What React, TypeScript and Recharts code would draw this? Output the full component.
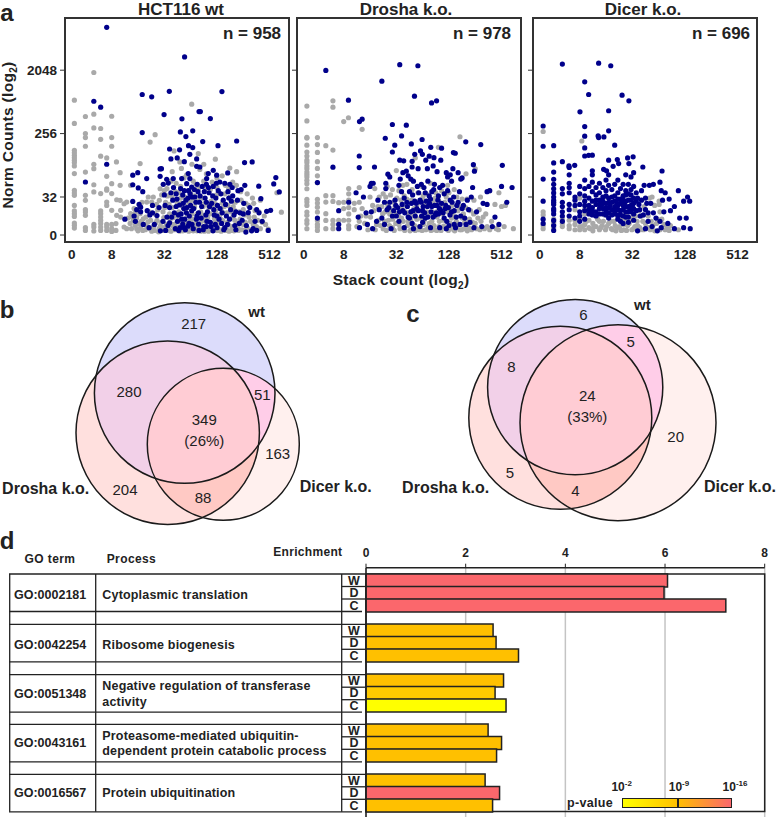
import React from 'react';
import {
  Bar, BarChart, CartesianGrid, Cell, ReferenceArea, Scatter, ScatterChart, XAxis, YAxis,
} from 'recharts';

type Pt = [number, number];

// all scatter values are [log2 stack count, log2 norm counts]
const wtGrey: Pt[] = [
  [1.58,9.58],[1.58,8.48],[1.58,7.21],[1.58,7.09],[1.58,6.97],[1.58,6.86],[1.58,6.74],[1.58,6.63],[1.58,6.47],[1.58,6.11],[1.58,5.32],[1.58,5.19],[1.58,5.08],[1.58,4.6],[1.58,4.34],[1.58,4.21],[1.58,4.08],[1.58,3.77],[1.58,3.66],[1.58,3.53],
  [2,8.81],[2,8],[2,7.81],[2,7.4],[2,6.18],[2,5.08],[2,4.84],[2,4.4],[2,4.29],[2,4.13],[2,3.55],[2,3.42],
  [2.32,10.89],[2.32,8.92],[2.32,8.27],[2.32,6.55],[2.32,6.34],[2.32,5.58],[2.32,5.24],[2.32,3.7],[2.32,3.58],[2.32,3.39],
  [2.58,8.24],[2.58,7.73],[2.58,6.93],[2.58,5.16],[2.58,4.34],[2.58,4.21],[2.58,4.05],[2.58,3.89],[2.58,3.74],[2.58,3.58],[2.58,3.42],
  [2.81,6.85],[2.81,5.98],[2.81,5.39],[2.81,5.32],[2.81,4.76],[2.81,4.6],[2.81,3.7],[2.81,3.58],[2.81,3.42],
  [3,8.82],[3,7.81],[3,7.4],[3,5.63],[3,5.16],[3,4.37],[3,3.7],[3,3.5],[3,3.37],
  [3.18,6.66],[3.32,6.15],[3.32,5.55],[3.19,4.87],[3.32,4.84],[3.19,4.13],[3.16,3.74],[3.16,3.42],[3.34,4.37],[3.34,4.05],[3.47,4.68],[3.47,3.58],[3.57,3.5],[3.57,4.76],[3.72,5.55],[3.72,4.21],[3.82,3.89],[3.89,3.66],[3.95,3.5],[4.08,6.58],[4.65,7.95],[4.46,7.6],[4.08,4.21],[4.2,3.97],[4.33,4.76],[4.39,5],[4.58,5],[4.52,4.76],[4.71,4.65],[4.81,4.84],[4.84,5.39],[6.04,9.39],[5.37,7.18],[5.59,6.66],[6.94,6.79],[7.49,6.37],[6.29,7.05],
  [3.7,3.75],[3.78,4.05],[3.85,4.45],[3.95,4.02],[4.02,3.75],[4.1,3.55],[4.18,3.42],[4.25,3.7],[4.3,4.05],[4.38,3.82],[4.45,3.5],[4.52,3.38],[4.6,3.62],[4.65,4.2],[4.72,3.9],[4.8,3.5],[4.88,3.8],[4.95,4.3],[5.0,3.55],[5.05,4.75],[5.12,5.05],[5.18,3.42],[5.22,3.95],[5.3,4.5],[5.35,3.6],[5.42,5.25],[5.48,4.1],[5.52,3.45],[5.6,3.8],[5.65,4.7],[5.7,3.4],[5.75,5.9],[5.8,4.4],[5.86,3.65],[5.92,5.3],[5.98,3.9],[6.02,3.42],[6.08,4.85],[6.15,3.7],[6.2,5.6],[6.25,4.2],[6.3,3.45],[6.35,5.0],[6.42,3.85],[6.48,4.55],[6.52,3.38],[6.58,5.4],[6.65,4.0],[6.72,3.55],[6.78,4.8],[6.82,5.7],[6.9,3.7],[6.95,4.35],[7.02,3.42],[7.08,5.2],[7.14,3.95],[7.2,4.7],[7.25,3.5],[7.32,5.55],[7.38,4.25],[7.44,3.68],[7.5,5.0],[7.55,3.42],[7.62,4.55],[7.68,3.9],[7.74,5.55],[7.8,3.55],[7.85,4.3],[7.92,4.85],[8,3.7],[8.05,4.15],[8.12,3.48],[8.2,4.6],[8.28,3.85],[8.35,4.95],[8.42,4.05],[8.5,3.6],[8.6,4.3],[8.72,3.8],[8.95,3.48],[9.28,5.2],[9.45,4.28],
  [5.2,4.2],[5.4,3.7],[5.55,4.3],[5.72,3.95],[5.9,4.6],[6.05,4.2],[6.2,3.75],[6.38,4.3],[6.55,3.95],[6.7,4.5],[6.9,4.0],[7.05,3.75],[7.2,4.3],[7.35,3.5],[7.6,4.05],[4.9,5.1],[5.1,5.4],[5.45,5.65],[5.85,6.05],[6.1,5.75],[6.35,6.3],[6.6,6.1],[7.0,5.9],[7.2,6.0],[7.6,5.7],[8.15,5.15],[8.65,4.85],
  [3.62,4.0],[3.75,3.5],[3.9,4.25],[4.0,3.4],[4.12,3.85],[4.15,4.75],[4.28,3.45],[4.35,3.6],[4.42,4.3],[4.48,3.9],[4.55,3.55],[4.62,3.42],[4.68,3.78],[4.75,4.4],[4.78,3.35],[4.85,3.62],[4.92,3.42],[4.98,4.02],[5.02,4.5],[5.08,3.7],[5.15,3.5],[5.18,4.65],[5.25,3.38],[5.28,3.72],[5.33,4.02],[5.38,3.45],[5.44,4.85],[5.47,3.58],[5.53,3.9],[5.58,3.38],[5.62,4.95],[5.67,3.55],[5.72,4.5],[5.76,3.42],[5.82,3.75],[5.88,4.15],[5.93,3.38],[5.97,4.75],[6.0,3.6],[6.06,3.95],[6.1,3.4],[6.15,4.55],[6.18,3.55],[6.24,3.4],[6.28,4.8],[6.33,3.65],[6.38,3.38],[6.44,4.15],[6.47,3.55],[6.53,4.7],[6.57,3.42],[6.6,3.8],[6.68,3.38],[6.74,4.2],[6.78,3.6],[6.85,4.55],[6.88,3.42],[6.94,3.85],[6.98,5.1],[7.05,3.5],[7.1,4.15],[7.16,3.38],[7.22,3.9],[7.28,4.55],[7.33,3.42],[7.4,3.8],[7.46,3.38],[7.52,4.3],[7.58,3.6],[7.65,3.4],[7.7,4.75],[7.75,3.75],[7.82,3.42],[7.88,3.95],[7.95,3.45],[8.0,4.4],[8.08,3.8],[8.15,3.55],[8.22,4.05],[8.3,3.45],[8.38,3.7],[8.45,4.35],[8.55,3.9],[8.65,3.5],[8.8,4.1],[8.85,3.7],
  [5.25,5.75],[5.55,5.2],[5.62,5.5],[6.0,5.2],[6.3,5.4],[6.5,5.75],[6.75,5.35],[7.0,5.45],[7.3,5.15],[7.45,5.4],[7.9,5.25],[5.3,6.2],[5.65,6.35],[6.5,6.55],[6.05,6.55],[7.75,6.2],[5.0,5.3],[5.3,5.0],[5.5,4.7],[5.78,5.0],[6.15,5.05],[6.45,4.95],[6.65,4.65],[6.92,4.7],[7.15,4.45],[7.42,4.6],[7.68,4.35],[8.1,4.7],[8.4,4.7],
];
const wtBlue: Pt[] = [
  [2.81,13.03],[5.77,11.63],[2.32,9.53],[2.58,9.25],[4.16,9.85],[4.52,9.74],[5.19,10],[7.19,9.99],[4.99,8.9],[6.32,9.04],[6.37,9.04],[5.67,8.7],[6.75,8.71],[4.16,8.05],[6.08,8.13],[5.61,8.08],[5.82,7.86],[6.46,7.62],[7.75,7.65],[7.04,7.43],[5.92,7.43],[6.08,7.34],[5.2,7.27],[5.58,7.23],[2.81,6.55],[5.97,7.02],[5.25,6.8],[5.49,6.85],[5.76,6.67],[8.05,6.63],[8.34,6.66],[6.23,6.8],[6.23,6.45],[6.35,6.42],[4.84,6.33],[2,5.71],
  [3.8,6.03],[3.99,6.15],[4.33,5.87],[3.8,5.58],[4.01,5.43],[4.18,5.25],[3.8,4.79],[4.04,4.65],[4.84,5.98],[4.89,6.34],[4.96,5.6],[5.09,5.84],[5.15,5.66],[5.34,5.87],[5.66,5.87],[5.91,6.11],[5.97,5.87],[5.85,5.63],[6.04,5.47],[6.61,5.87],[6.86,6.26],[6.67,6.11],[6.99,6.03],[7.41,6.14],[7.11,5.71],[7.49,5.6],[8.06,5.55],[8.59,5.51],[9.16,5.62],[9.24,5.92],[9.37,5.24],[8.67,4.92],[8.89,4.32],[9.04,4.37],[8.51,4.4],[8.19,4.26],[8.72,3.85],[8.38,3.5],[8.51,3.42],[8.1,3.34],[8.95,3.42],
  [3.5,3.95],[3.85,4.1],[3.9,3.85],[3.95,4.4],[4.1,4.3],[4.2,3.7],[4.35,4.35],[4.42,3.55],[4.55,4.25],[4.72,4.12],[4.85,3.4],[4.95,3.85],[5.05,3.42],[5.1,4.05],[5.2,4.5],[5.25,5.2],[5.32,4.85],[5.38,4.25],[5.45,5.15],[5.5,3.85],[5.58,4.62],[5.6,3.55],[5.64,4.2],[5.7,5.1],[5.74,4.45],[5.78,3.95],[5.82,4.85],[5.86,4.5],[5.92,5.3],[5.95,4.1],[6,4.6],[6.05,3.7],[6.12,4.45],[6.16,5.0],[6.22,3.95],[6.28,5.25],[6.34,4.75],[6.4,4.0],[6.44,5.5],[6.5,3.6],[6.55,4.95],[6.6,5.6],[6.64,4.3],[6.7,5.2],[6.75,3.8],[6.8,4.7],[6.86,5.5],[6.9,4.15],[6.96,4.95],[7.0,3.55],[7.05,5.3],[7.12,4.45],[7.18,3.75],[7.24,4.85],[7.3,5.65],[7.36,4.1],[7.42,5.25],[7.48,3.95],[7.55,4.8],[7.6,5.05],[7.68,3.65],[7.72,4.3],[7.8,5.3],[7.88,4.25],[7.96,3.9],[8.02,4.7],[5.55,3.42],[5.75,3.55],[6.32,3.42],[6.6,3.6],[7.0,4.1],[6.3,4.25],[6.05,5.0],[5.45,4.55],[5.7,3.72],[7.3,3.55],[6.85,3.4],[4.1,4.52],[4.45,4.15],[5.2,3.78],[6.25,5.6],[6.6,4.75],[5.9,3.62],
  [4.55,4.6],[4.62,3.7],[4.8,4.5],[5.0,5.1],[5.03,4.6],[5.14,3.65],[5.28,4.05],[5.35,5.45],[5.42,3.5],[5.48,4.9],[5.54,4.15],[5.62,5.4],[5.66,3.95],[5.72,4.7],[5.76,5.3],[5.8,3.45],[5.84,4.25],[5.9,4.95],[5.94,3.75],[5.98,5.15],[6.04,4.35],[6.1,3.5],[6.14,5.35],[6.2,4.75],[6.24,4.1],[6.3,3.72],[6.36,5.05],[6.42,4.55],[6.48,3.45],[6.52,5.25],[6.58,4.15],[6.62,3.85],[6.68,5.45],[6.72,4.55],[6.78,3.6],[6.84,5.05],[6.88,4.4],[6.94,3.7],[6.98,5.65],[7.02,4.6],[7.08,3.95],[7.15,5.15],[7.2,4.25],[7.26,3.45],[7.33,4.65],[7.4,3.7],[7.45,4.95],[7.52,4.4],[7.58,5.45],[7.65,4.15],[7.72,3.45],[7.78,4.85],[7.85,3.75],[7.92,5.35],[8.0,4.2],[8.12,3.65],[8.25,4.5],[8.32,3.4],[8.45,3.85],[8.6,4.25],
];

const droshaGrey: Pt[] = [
  [1.6,9.3],[1.6,8.6],[1.6,7.82],[1.6,7.79],[1.6,7.45],[1.6,7.13],[1.6,6.94],[1.6,6.74],[1.6,6.63],[1.6,6.47],[1.6,6.34],[1.6,6.18],[1.6,6.07],[1.6,5.95],[1.6,5.79],[1.6,5.63],[1.6,5.39],[1.6,4.89],[1.6,4.76],[1.6,4.6],[1.6,4.29],[1.6,4.13],[1.6,3.89],[1.6,3.74],[1.6,3.5],
  [2,7.81],[2,7.48],[2,7.11],[2,6.67],[2,6.35],[2,6],[2,5.68],[2,4.89],[2,4.71],[2,4.52],[2,4.29],[2,3.89],[2,3.7],[2,3.58],[2,3.42],
  [2.32,7.43],[2.32,5.06],[2.32,4.76],[2.32,4.21],[2.32,3.89],[2.32,3.5],
  [2.59,9.55],[2.59,9.25],[2.59,7.22],[2.59,5.06],[2.59,4.79],[2.59,3.89],[2.59,3.7],[2.59,3.5],
  [2.81,4.73],[2.81,3.9],[3,8.57],[3.18,8.75],[3.7,8.2],[3.19,5.4],[3.19,5.15],[3.19,4.85],[3,4.75],[3,4.45],[3,3.9],[3.19,4.5],[3.19,4.2],[3.19,3.9],[3.19,3.65],[3.19,3.5],[3.4,4.7],[3.4,4.4],[3.59,5.45],[3.59,4.75],[3.59,3.85],[3.7,4.45],[3.85,4.1],[4,5.0],[4.1,4.6],[4.18,5.4],[4.25,3.7],[4.35,5.0],[4.45,4.55],[4.5,3.5],[4.58,4.3],[4.65,5.5],[4.7,3.9],[4.78,5.1],[4.85,3.55],[4.9,4.75],[5.0,6.25],[5.0,4.2],[5.1,5.3],[5.1,3.7],[5.18,4.85],[5.25,3.5],[5.3,5.05],[5.35,4.3],[5.4,5.6],[5.45,3.85],[5.5,4.7],[5.55,3.45],[5.6,5.35],[5.65,4.1],[5.7,3.65],[5.72,6.85],[5.78,4.6],[5.82,5.2],[5.86,3.45],[5.92,4.0],[5.98,5.5],[6.03,3.7],[6.08,4.6],[6.14,5.15],[6.2,3.5],[6.25,4.2],[6.3,5.65],[6.35,3.85],[6.4,4.75],[6.46,3.45],[6.5,5.2],[6.55,4.05],[6.6,7.35],[6.62,3.6],[6.68,4.55],[6.72,5.3],[6.78,3.9],[6.84,4.75],[6.9,3.5],[6.95,4.3],[7.0,5.2],[7.05,3.75],[7.12,4.6],[7.18,3.45],[7.25,4.05],[7.3,5.0],[7.35,3.7],[7.4,4.55],[7.42,7.85],[7.48,3.45],[7.55,4.2],[7.6,3.8],[7.65,6.1],[7.68,4.9],[7.75,3.55],[7.82,4.35],[7.9,3.8],[7.95,4.85],[8,6.33],[8.05,3.5],[8.15,4.4],[8.22,3.85],[8.35,3.5],[8.4,4.2],[8.55,5.3],[8.62,3.85],[8.75,4.65],[8.88,3.45],[9.0,4.55],[9.1,3.6],[9.45,3.5],
  [4.3,4.55],[4.6,3.85],[4.95,4.55],[5.2,4.0],[5.4,4.9],[5.7,4.3],[6.0,4.9],[6.25,3.75],[6.6,4.85],[6.9,5.0],[7.1,4.0],[7.3,3.55],[7.5,4.9],[4.75,4.2],[5.55,3.9],[6.05,4.25],
  [3.5,3.6],[3.65,4.1],[3.8,3.75],[3.92,3.45],[4.02,4.05],[4.15,4.35],[4.2,3.45],[4.32,3.9],[4.4,3.65],[4.48,4.2],[4.55,3.85],[4.62,3.42],[4.68,4.6],[4.74,3.65],[4.8,4.35],[4.86,3.95],[4.92,3.42],[4.98,3.75],[5.02,4.95],[5.08,4.1],[5.14,3.5],[5.2,4.45],[5.26,3.85],[5.32,3.42],[5.38,4.6],[5.42,3.65],[5.48,4.15],[5.52,3.4],[5.58,4.85],[5.62,3.7],[5.67,4.45],[5.72,3.42],[5.78,3.95],[5.84,4.75],[5.88,3.6],[5.94,4.35],[5.98,3.42],[6.02,5.05],[6.06,3.9],[6.12,3.45],[6.16,4.3],[6.22,3.6],[6.27,4.85],[6.32,3.42],[6.38,4.3],[6.43,3.65],[6.48,4.95],[6.54,3.42],[6.58,4.35],[6.64,3.85],[6.7,3.42],[6.75,4.2],[6.8,3.62],[6.86,5.15],[6.92,3.85],[6.98,3.42],[7.02,4.5],[7.08,3.55],[7.15,4.2],[7.22,3.4],[7.28,3.85],[7.34,4.35],[7.42,3.45],[7.5,4.0],[7.58,3.5],[7.64,4.5],[7.7,3.4],[7.78,3.95],[7.86,3.45],[7.94,4.2],[8.0,3.75],[8.1,4.0],[8.18,3.45],[8.3,4.05],[8.45,3.6],[8.55,3.45],[8.8,3.5],[8.2,5.0],[8.9,5.2],[9.15,4.6],[7.2,5.35],[6.95,5.55],[5.25,5.55],[4.85,5.35],[4.5,5.15],[4.6,5.0],
];
const droshaBlue: Pt[] = [
  [2.32,10.99],[5.13,11.26],[5.82,11.21],[4.45,10.48],[5.69,9.77],[3.18,9.58],[6.34,9.45],[6.53,9.55],[3.6,8.57],[3.7,8.68],[4.85,8.43],[5.38,8.4],[5.2,7.89],[4.58,7.78],[5.98,7.72],[4.94,7.45],[5.57,7.51],[7.64,7.61],[8.21,7.48],[6.31,7.35],[6.72,7.31],[5.92,7.18],[4.85,7.13],[5.99,7.02],[7.17,7.1],[7.24,7.07],[3.59,6.94],[5.7,7.02],[6.25,6.93],[6.43,6.86],[5.13,6.74],[5.28,6.71],[5.6,6.69],[6.69,6.74],[6.12,6.74],[2.59,6.41],[3.59,6.39],[4.17,6.42],[5.6,6.42],[6.4,6.47],[7.93,6.53],[9.03,6.5],[6.18,6.34],[7.15,6.34],[5.38,6.22],[5.83,6.34],[7.97,6.22],
  [4.68,6.08],[4.75,5.95],[5.25,6.15],[5.45,6.0],[5.55,5.85],[6.55,6.2],[6.9,6.15],[6.95,5.95],[7.05,6.05],[7.35,6.15],[7.1,5.75],[7.45,5.85],[7.5,5.9],[7.9,5.45],[5.15,5.85],[5.1,5.55],[5.65,5.75],[5.8,5.5],[6.2,5.75],[6.45,5.6],[4.05,5.65],[4.12,5.65],[4.6,5.65],[4.6,5.4],[2,5.68],[3.47,5.2],[3.75,5.0],[4.0,5.5],[8.45,5.25],[8.55,5.3],[9.0,5.5],[9.4,5.45],
  [2,4.0],[2.81,4.35],[2.81,3.7],[2.81,3.5],[3.19,4.75],[3.55,4.05],[3.6,3.55],[3.85,4.25],[3.9,3.7],[4.05,4.3],[4.1,3.5],[4.3,4.85],[4.45,4.0],[4.55,3.7],[4.65,4.4],[4.75,4.75],[4.8,3.5],[4.9,4.35],[4.95,4.85],[5.05,4.5],[5.1,3.85],[5.2,5.25],[5.25,4.35],[5.3,3.55],[5.4,4.75],[5.5,5.25],[5.55,4.3],[5.6,3.75],[5.7,4.8],[5.78,4.45],[5.85,5.2],[5.9,3.6],[5.95,4.75],[6.0,4.35],[6.05,5.45],[6.1,4.0],[6.18,4.55],[6.25,5.05],[6.3,3.55],[6.35,4.55],[6.42,5.35],[6.48,4.15],[6.55,4.6],[6.6,5.05],[6.65,3.55],[6.7,4.35],[6.76,5.55],[6.82,4.0],[6.88,4.6],[6.95,5.3],[7.0,3.65],[7.05,4.85],[7.1,4.3],[7.18,5.0],[7.25,3.55],[7.3,4.6],[7.4,5.25],[7.45,4.1],[7.55,4.6],[7.65,3.7],[7.75,4.4],[7.85,5.0],[7.95,3.55],[8.05,4.3],[8.25,3.6],[8.45,4.65],[8.75,4.05],[8.9,3.7],[8.65,3.6],[9.2,4.75],[8.3,4.7],[5.0,4.1],[5.45,4.05],[5.65,3.5],[6.0,3.8],[6.3,4.9],[6.6,4.2],[6.9,3.5],[7.2,3.7],
  [4.72,4.5],[4.85,4.1],[4.98,4.6],[5.12,4.3],[5.22,4.65],[5.32,4.25],[5.42,4.55],[5.5,4.0],[5.58,4.7],[5.64,4.35],[5.72,4.1],[5.76,4.7],[5.84,4.35],[5.9,4.85],[5.96,4.1],[6.02,4.55],[6.08,4.25],[6.14,4.8],[6.2,4.05],[6.26,4.7],[6.32,4.3],[6.4,4.05],[6.45,4.6],[6.52,4.25],[6.58,4.85],[6.64,4.45],[6.72,4.7],[6.78,4.25],[6.86,4.45],[6.92,3.85],[6.98,4.5],[7.04,4.15],[7.12,4.75],[7.2,4.35],[7.28,4.05],[7.35,4.75],[7.42,3.7],[7.5,4.45],[7.6,4.0],[7.7,4.85],[7.8,3.8],[5.95,5.6],[6.1,5.2],[6.35,5.25],[6.65,5.45],[6.82,5.15],[5.3,4.95],[5.62,5.1],[4.55,4.75],[4.35,4.4],[4.25,3.85],
];

const dicerGrey: Pt[] = [
  [1.61,8.1],[3.08,7.65],[1.61,4.3],[1.61,4.15],[1.61,3.65],[1.61,3.5],[2.01,3.95],[2.01,3.8],[2.01,3.7],[2.01,3.55],[2.34,3.95],[2.34,3.75],[2.34,3.6],[2.6,3.9],[2.6,3.65],[2.6,3.5],[2.82,4.4],[2.82,3.9],[2.82,3.7],[2.82,3.45],[3,4.95],[3,3.95],[3,3.6],[3,3.45],[3.19,4.4],[3.19,4.2],[3.19,3.7],[3.19,3.45],[3.35,4.45],[3.35,3.9],[3.35,3.55],[3.5,3.75],[3.5,3.4],[3.62,4.1],[3.62,3.6],[3.75,3.85],[3.75,3.45],[3.85,3.65],[3.95,4.15],[3.98,3.45],[4.1,3.75],[4.15,4.25],[4.2,3.5],[4.3,3.85],[4.38,3.4],[4.45,4.05],[4.52,3.6],[4.6,3.85],[4.68,3.45],[4.75,4.2],[4.82,3.65],[4.9,4.55],[4.95,3.9],[5.05,3.5],[5.12,4.1],[5.2,3.65],[5.25,4.35],[5.3,3.45],[5.4,3.85],[5.45,4.55],[5.55,3.55],[5.6,4.1],[5.65,4.95],[5.72,3.85],[5.85,4.6],[5.95,3.95],[6.05,4.3],[6.05,3.45],[6.02,4.8],[6.02,4.65],[6.2,3.7],[6.32,3.6],[6.75,3.45],[5.75,5],[4.0,5.0],[4.5,4.75],
  [3.1,3.6],[3.25,3.85],[3.4,3.5],[3.55,3.6],[3.68,3.95],[3.8,3.55],[3.9,3.85],[4.02,3.6],[4.05,4.15],[4.18,3.85],[4.25,3.45],[4.35,3.65],[4.42,3.55],[4.55,3.9],[4.58,3.42],[4.65,3.7],[4.72,3.95],[4.78,3.42],[4.88,3.75],[4.98,3.45],[5.02,4.05],[5.1,3.6],[5.18,3.85],[5.28,3.55],[5.35,4.1],[5.42,3.45],[5.5,3.75],[5.6,3.55],[5.68,3.45],[5.78,3.65],[5.85,3.4],[5.92,3.75],[6.12,3.95],[6.25,3.45],[6.45,3.65],[6.4,3.42],
];
const dicerBlue: Pt[] = [
  [2.34,11.29],[3.72,11.33],[4.18,11.21],[3.19,10.45],[3.34,9.85],[4.61,9.82],[4.87,9.55],[4.1,9.08],[3.01,9.03],[1.61,8.36],[3.19,8.33],[4.1,8.13],[3.19,7.88],[3.7,7.89],[3.72,7.81],[3.92,7.84],[1.61,7.4],[2.01,7.43],[3.19,7.32],[4.33,7.45],[3.19,6.94],[3.34,6.97],[3.48,6.98],[5.03,6.9],[4.82,6.85],[4.1,6.74],[4.43,6.77],[2.34,6.67],[2.01,6.61],[2.81,6.5],[2.59,6.47],[4.27,6.45],[4.48,6.58],[4.87,6.58],[5.4,6.42],[3.91,6.31],[4.02,6.24],[3.48,6.24],[6.13,6.23],
  [1.61,5.85],[1.61,4.8],[1.61,3.95],[1.61,3.75],[2.01,6.18],[2.01,5.84],[2.01,5.6],[2.01,5.39],[2.01,5.19],[2.01,5],[2.01,4.84],[2.01,4.65],[2.01,4.44],[2.01,4.2],[2.01,3.89],[2.01,3.65],[2.01,3.42],[2.34,5.4],[2.34,5.15],[2.34,4.75],[2.34,4.55],[2.34,4.3],[2.34,4.1],[2.6,6.4],[2.6,6.05],[2.6,5.65],[2.6,5.45],[2.6,5.2],[2.6,4.65],[2.6,4.4],[2.6,4.1],[2.82,5],[2.82,4.85],[2.82,4.0],[3,5.5],[3,5.15],[3,4.65],[3,4.3],[3,3.85],[3.19,5.8],[3.19,5.4],[3.19,5.05],[3.19,4.6],[3.19,3.95],[3.35,5.5],[3.35,4.95],[3.35,4.6],[3.35,4.2],[3.48,6.05],[3.48,5.7],[3.48,5.25],[3.48,4.8],[3.48,4.5],[3.48,4.15],[3.62,5.45],[3.62,5.1],[3.62,4.65],[3.62,4.3],[3.75,5.65],[3.75,5.2],[3.75,4.85],[3.75,4.45],[3.88,5.45],[3.88,5],[3.88,4.2],[4,5.8],[4,5.3],[4,4.7],[4,4.35],[4.1,6.05],[4.1,5.55],[4.1,4.95],[4.1,4.5],[4.1,4],[4.22,5.35],[4.22,5],[4.22,4.4],[4.33,5.6],[4.33,4.8],[4.33,4.2],[4.45,5.8],[4.45,5.2],[4.45,4.6],[4.45,3.95],[4.55,5.4],[4.55,4.9],[4.55,4.35],[4.65,5.6],[4.65,5.05],[4.65,4.6],[4.65,3.75],[4.75,6.05],[4.75,5.3],[4.75,4.8],[4.75,4.3],[4.85,5.6],[4.85,5.15],[4.85,4.55],[4.85,4.05],[4.95,5.95],[4.95,5.35],[4.95,4.85],[5.05,6.15],[5.05,5.5],[5.05,4.7],[5.05,4.2],[5.15,5.2],[5.25,4.65],[5.3,4.1],[5.35,5.3],[5.5,4.95],[5.5,4.4],[5.45,5.55],[5.6,3.85],[5.65,5.55],[5.7,4.7],[5.8,5.6],[5.8,4.25],[5.9,4.0],[5.95,3.4],[5.5,3.5],[6.05,5.7],[6.1,5.3],[6.05,3.85],[6.15,4.85],[6.2,4.3],[6.25,5.2],[6.4,4.9],[6.45,4.35],[6.35,3.75],[6.1,3.55],[6.6,4.55],[6.75,5.3],[6.6,3.5],[6.95,4.8],[6.8,4.0],[7.1,5.0],[7.18,4.8],[6.95,3.55],[7.2,3.5],[7.05,4.0],[5.75,3.6],[5.2,3.4],
  [2.01,4.35],[2.01,4.75],[2.34,3.85],[2.82,4.6],[3,4.1],[3.19,4.8],[3.19,4.35],[3.35,4.4],[3.48,4.35],[3.62,4.85],[3.62,4.1],[3.75,4.65],[3.75,4.2],[3.88,4.8],[3.88,4.45],[4,5.05],[4,4.5],[4,4.15],[4.1,4.75],[4.1,4.25],[4.22,4.75],[4.22,4.15],[4.33,5.05],[4.33,4.55],[4.33,4.35],[4.45,4.9],[4.45,4.4],[4.45,4.15],[4.55,4.7],[4.55,4.15],[4.55,3.85],[4.65,4.85],[4.65,4.4],[4.65,4.1],[4.75,5.1],[4.75,4.55],[4.75,4.05],[4.85,4.85],[4.85,4.3],[4.85,3.8],[4.95,5.1],[4.95,4.6],[4.95,4.3],[5.05,4.95],[5.05,4.45],[5.05,3.9],[5.15,4.8],[5.15,4.35],[5.2,4.95],[5.28,4.4],[5.35,4.85],[5.42,4.15],[5.55,4.7],[5.6,4.25],[3.85,4.65],[4.15,4.6],[4.42,4.7],[4.7,4.7],[4.9,4.45],[5.0,4.6],
];

const scatterTitles = ['HCT116 wt', 'Drosha k.o.', 'Dicer k.o.'];
const scatterCounts = ['n = 958', 'n = 978', 'n = 696'];
const stackTicks = [1.48, 3, 5, 7, 9];
const stackLabels = ['0', '8', '32', '128', '512'];
const normTicks = [3.2, 5, 8, 11];
const normLabels = ['0', '32', '256', '2048'];

// venn: one entry per circle, wt / Drosha / Dicer
const vennB = { x: [184.7, 167.7, 223.3], y: [103, 142.7, 154.3], r: [90.3, 91.7, 76] };
const vennC = { x: [185.2, 170.3, 228], y: [97.2, 127.8, 132.7], r: [87.6, 91.5, 98] };

const goTerms = ['GO:0002181', 'GO:0042254', 'GO:0051348', 'GO:0043161', 'GO:0016567'];
const processes = [
  ['Cytoplasmic translation'],
  ['Ribosome biogenesis'],
  ['Negative regulation of transferase', 'activity'],
  ['Proteasome-mediated ubiquitin-', 'dependent protein catabolic process'],
  ['Protein ubiquitination'],
];
const rowLabels = ['W', 'D', 'C', '', 'W', 'D', 'C', '', 'W', 'D', 'C', '', 'W', 'D', 'C', '', 'W', 'D', 'C'];
const enrichment = [6.05, 5.98, 7.22, null, 2.55, 2.61, 3.06, null, 2.76, 2.59, 2.81, null, 2.45, 2.72, 2.62, null, 2.39, 2.68, 2.54];
const RED = '#fb676c';
const AMB = '#ffc000';
const rowColors = [RED, RED, RED, '', AMB, AMB, AMB, '', AMB, '#ffca00', '#ffff00', '', AMB, AMB, AMB, '', AMB, RED, AMB];
const enrichTicks = [0, 2, 4, 6, 8];

const barData = enrichment.map((v, i) => ({ row: String(i), value: v }));
const font = '"Liberation Sans", Arial, sans-serif';
const ink = '#222';

function T({ x, y, size = 14, bold = false, left = false, spacing = 0, children }: any) {
  return (
    <div
      style={{
        position: 'absolute', left: x, top: y, fontSize: size, fontWeight: bold ? 700 : 400,
        fontFamily: font, color: ink, whiteSpace: 'nowrap', lineHeight: 1, letterSpacing: spacing,
        transform: left ? 'translateY(-50%)' : 'translate(-50%,-50%)',
      }}
    >
      {children}
    </div>
  );
}

const dot = (fill: string) => (p: any) => <circle cx={p.cx} cy={p.cy} r={2.6} fill={fill} />;

function ScatterPanel({ i, left, grey, blue }: { i: number; left: number; grey: Pt[]; blue: Pt[] }) {
  const first = i === 0;
  const toPts = (a: Pt[]) => a.map(([x, y]) => ({ x, y }));
  return (
    <div style={{ position: 'absolute', left: left - 65, top: 0 }}>
      <ScatterChart width={291} height={266} margin={{ top: 18, right: 2, bottom: 4, left: 0 }}>
        <XAxis
          type="number" dataKey="x" domain={[1.224, 9.74]} ticks={stackTicks} axisLine={false} tickLine={false}
          height={20} tickMargin={1} interval={0} allowDataOverflow
          tickFormatter={(v) => stackLabels[stackTicks.indexOf(v)]}
          tick={{ fontSize: 13.5, fontWeight: 700, fontFamily: font, fill: ink }}
        />
        <YAxis
          type="number" dataKey="y" domain={[2.87, 13.47]} ticks={normTicks} width={65} axisLine={false}
          tickSize={5} tickMargin={3} interval={0} allowDataOverflow stroke="#333"
          tickFormatter={(v) => (first ? normLabels[normTicks.indexOf(v)] : '')}
          tick={{ fontSize: 13.5, fontWeight: 700, fontFamily: font, fill: ink }}
        />
        <Scatter data={toPts(grey)} shape={dot('#a9a9a9')} isAnimationActive={false} />
        <Scatter data={toPts(blue)} shape={dot('#00008b')} isAnimationActive={false} />
        <ReferenceArea x1={1.224} x2={9.74} y1={2.87} y2={13.47} fill="none" stroke="#333" strokeWidth={2} fillOpacity={0} />
      </ScatterChart>
    </div>
  );
}

// regions: base circle, circles it is clipped by, fill
const vennRegions = [
  { c: 0, clip: [] as number[], fill: '#dcdcfb' },
  { c: 1, clip: [], fill: '#ffe0de' },
  { c: 2, clip: [], fill: '#fff0ee' },
  { c: 1, clip: [0], fill: '#f2d0e8' },
  { c: 2, clip: [0], fill: '#ffcde8' },
  { c: 2, clip: [1], fill: '#ffc9c4' },
  { c: 2, clip: [0, 1], fill: '#ffccd4' },
];

function Venn({ id, left, width, v }: { id: string; left: number; width: number; v: typeof vennB }) {
  const fills = vennRegions.map((r) => ({ x: v.x[r.c], y: v.y[r.c], r: v.r[r.c], clip: r.clip, fill: r.fill }));
  const rings = v.x.map((x, k) => ({ x, y: v.y[k], r: v.r[k] }));
  const fillShape = (p: any) => {
    const d = p.payload;
    let el = <circle cx={p.cx} cy={p.cy} r={d.r} fill={d.fill} />;
    d.clip.forEach((k: number) => {
      el = <g clipPath={`url(#${id}${k})`}>{el}</g>;
    });
    return el;
  };
  return (
    <div style={{ position: 'absolute', left, top: 290 }}>
      <ScatterChart width={width} height={240} margin={{ top: 0, right: 0, bottom: 0, left: 0 }}>
        <defs>
          {v.x.map((x, k) => (
            <clipPath id={`${id}${k}`} key={k}>
              <circle cx={x} cy={v.y[k]} r={v.r[k]} />
            </clipPath>
          ))}
        </defs>
        <XAxis type="number" dataKey="x" domain={[0, width]} hide />
        <YAxis type="number" dataKey="y" domain={[0, 240]} reversed hide />
        <Scatter data={fills} shape={fillShape} isAnimationActive={false} />
        <Scatter
          data={rings}
          isAnimationActive={false}
          shape={(p: any) => <circle cx={p.cx} cy={p.cy} r={p.payload.r} fill="none" stroke="#1a1a1a" strokeWidth={1.5} />}
        />
      </ScatterChart>
    </div>
  );
}

function GoTable() {
  const tops = [574, 624.3, 674.7, 724.3, 774.3];
  const h = 37.5;
  const lines = tops.flatMap((t) => [t, t + h]);
  return (
    <svg width={777} height={819} style={{ position: 'absolute', left: 0, top: 0 }}>
      {lines.map((y, i) => <line key={i} x1={9} x2={i % 2 ? 362 : 366} y1={y} y2={y} stroke={ink} strokeWidth={1.3} />)}
      {tops.flatMap((t) => [t + 12.5, t + 25]).map((y, i) => <line key={i} x1={341.7} x2={366} y1={y} y2={y} stroke={ink} strokeWidth={1.3} />)}
      {[9.7, 95.7, 341.7].map((x) => <line key={x} x1={x} x2={x} y1={574} y2={811.8} stroke={ink} strokeWidth={1.3} />)}
    </svg>
  );
}

function RowTick(p: any) {
  return (
    <text x={p.x - 4} y={p.y + 4.5} textAnchor="middle" fontSize={12.5} fontWeight={700} fontFamily={font} fill={ink}>
      {rowLabels[Number(p.payload.value)]}
    </text>
  );
}

export default function App() {
  const goY = [595, 644.7, 694, 743.3, 793];
  return (
    <div style={{ position: 'absolute', left: 0, top: 0, width: 777, height: 819, background: '#fff', overflow: 'hidden' }}>
      <ScatterPanel i={0} left={65} grey={wtGrey} blue={wtBlue} />
      <ScatterPanel i={1} left={297.3} grey={droshaGrey} blue={droshaBlue} />
      <ScatterPanel i={2} left={533.3} grey={dicerGrey} blue={dicerBlue} />
      {[181, 406, 643].map((x, i) => <T key={x} x={x} y={9} size={17} bold>{scatterTitles[i]}</T>)}
      {[252, 482, 721].map((x, i) => <T key={x} x={x} y={33} size={17} bold>{scatterCounts[i]}</T>)}
      <T x={7} y={13} size={24} bold>a</T>
      <div style={{ position: 'absolute', left: 8, top: 135, transform: 'translate(-50%,-50%) rotate(-90deg)', fontFamily: font, fontWeight: 700, fontSize: 15.5, color: ink, whiteSpace: 'nowrap', letterSpacing: 0.3 }}>
        Norm Counts (log<sub style={{ fontSize: 10, lineHeight: 0 }}>2</sub>)
      </div>
      <T x={401} y={280} size={15.5} bold spacing={0.3}>Stack count (log<sub style={{ fontSize: 10, lineHeight: 0 }}>2</sub>)</T>

      <Venn id="vb" left={0} width={390} v={vennB} />
      <Venn id="vc" left={390} width={387} v={vennC} />
      <T x={7} y={310} size={24} bold>b</T>
      <T x={413} y={314} size={24} bold>c</T>
      <T x={193.7} y={322.7} size={15}>217</T>
      <T x={256.7} y={310.7} size={15} bold>wt</T>
      <T x={129} y={390.7} size={15}>280</T>
      <T x={262.3} y={394.3} size={15}>51</T>
      <T x={204.3} y={419.3} size={15}>349</T>
      <T x={204.3} y={440} size={15}>(26%)</T>
      <T x={277.7} y={453.3} size={15}>163</T>
      <T x={125} y={489} size={15}>204</T>
      <T x={203} y={497.3} size={15}>88</T>
      <T x={45.7} y={489.3} size={16} bold>Drosha k.o.</T>
      <T x={335.7} y={487.3} size={16} bold>Dicer k.o.</T>
      <T x={583.3} y={314} size={15}>6</T>
      <T x={642.3} y={304} size={15} bold>wt</T>
      <T x={630.7} y={340.7} size={15}>5</T>
      <T x={511.3} y={365.7} size={15}>8</T>
      <T x={587.3} y={395} size={15}>24</T>
      <T x={587.3} y={415.7} size={15}>(33%)</T>
      <T x={675.7} y={435.7} size={15}>20</T>
      <T x={510} y={471.7} size={15}>5</T>
      <T x={575.3} y={490} size={15}>4</T>
      <T x={445.7} y={488} size={16} bold>Drosha k.o.</T>
      <T x={740} y={487.3} size={16} bold>Dicer k.o.</T>

      <T x={7} y={541} size={24} bold>d</T>
      <T x={50} y={559} size={12} bold spacing={0.4}>GO term</T>
      <T x={106.7} y={559} size={12} bold left spacing={0.4}>Process</T>
      <T x={273.3} y={552} size={12} bold left spacing={0.3}>Enrichment</T>
      <GoTable />
      {goTerms.map((g, i) => <T key={g} x={14} y={goY[i]} size={12.5} bold left>{g}</T>)}
      {processes.map((lines, i) =>
        lines.map((l, k) => (
          <T key={l} x={102.3} y={goY[i] + (lines.length > 1 ? (k ? 7.8 : -7.8) : 0)} size={12.5} bold left spacing={0.18}>{l}</T>
        )),
      )}
      <div style={{ position: 'absolute', left: 340, top: 530 }}>
        <BarChart
          layout="vertical" width={437} height={289} data={barData} barCategoryGap={0}
          margin={{ top: 17.7, right: 12.3, bottom: 2, left: 2 }}
        >
          <CartesianGrid horizontal={false} stroke="#c4c4c4" strokeWidth={1.5} />
          <XAxis
            type="number" orientation="top" domain={[0, 8]} ticks={enrichTicks} height={20} interval={0}
            axisLine={{ stroke: ink, strokeWidth: 1.5 }} tickSize={4} tickMargin={7} stroke={ink}
            tick={{ fontSize: 12, fontWeight: 700, fontFamily: font, fill: ink }}
          />
          <YAxis
            type="category" dataKey="row" width={24} axisLine={{ stroke: ink, strokeWidth: 1.5 }} tickLine={false}
            interval={0} padding={{ top: 6.3, bottom: 5.5 }} tick={<RowTick />}
          />
          <Bar dataKey="value" stroke={ink} strokeWidth={1.5} isAnimationActive={false}>
            {barData.map((d, i) => <Cell key={d.row} fill={rowColors[i] || 'none'} />)}
          </Bar>
          <ReferenceArea x1={0} x2={8} fill="none" fillOpacity={0} stroke={ink} strokeWidth={1.5} />
        </BarChart>
      </div>
      <T x={590} y={802.7} size={12.5} bold spacing={0.3}>p-value</T>
      <T x={621.7} y={787} size={12} bold>10<sup style={{ fontSize: 8, lineHeight: 0 }}>-2</sup></T>
      <T x={679} y={787} size={12} bold>10<sup style={{ fontSize: 8, lineHeight: 0 }}>-9</sup></T>
      <T x={735} y={787} size={12} bold>10<sup style={{ fontSize: 8, lineHeight: 0 }}>-16</sup></T>
      <div
        style={{
          position: 'absolute', left: 622, top: 797.5, width: 108, height: 8, border: `1.5px solid ${ink}`,
          background: `linear-gradient(to right, #ffff00, ${AMB} 50%, ${RED})`,
        }}
      />
      <div style={{ position: 'absolute', left: 677, top: 798, width: 1.5, height: 9, background: ink }} />
    </div>
  );
}
